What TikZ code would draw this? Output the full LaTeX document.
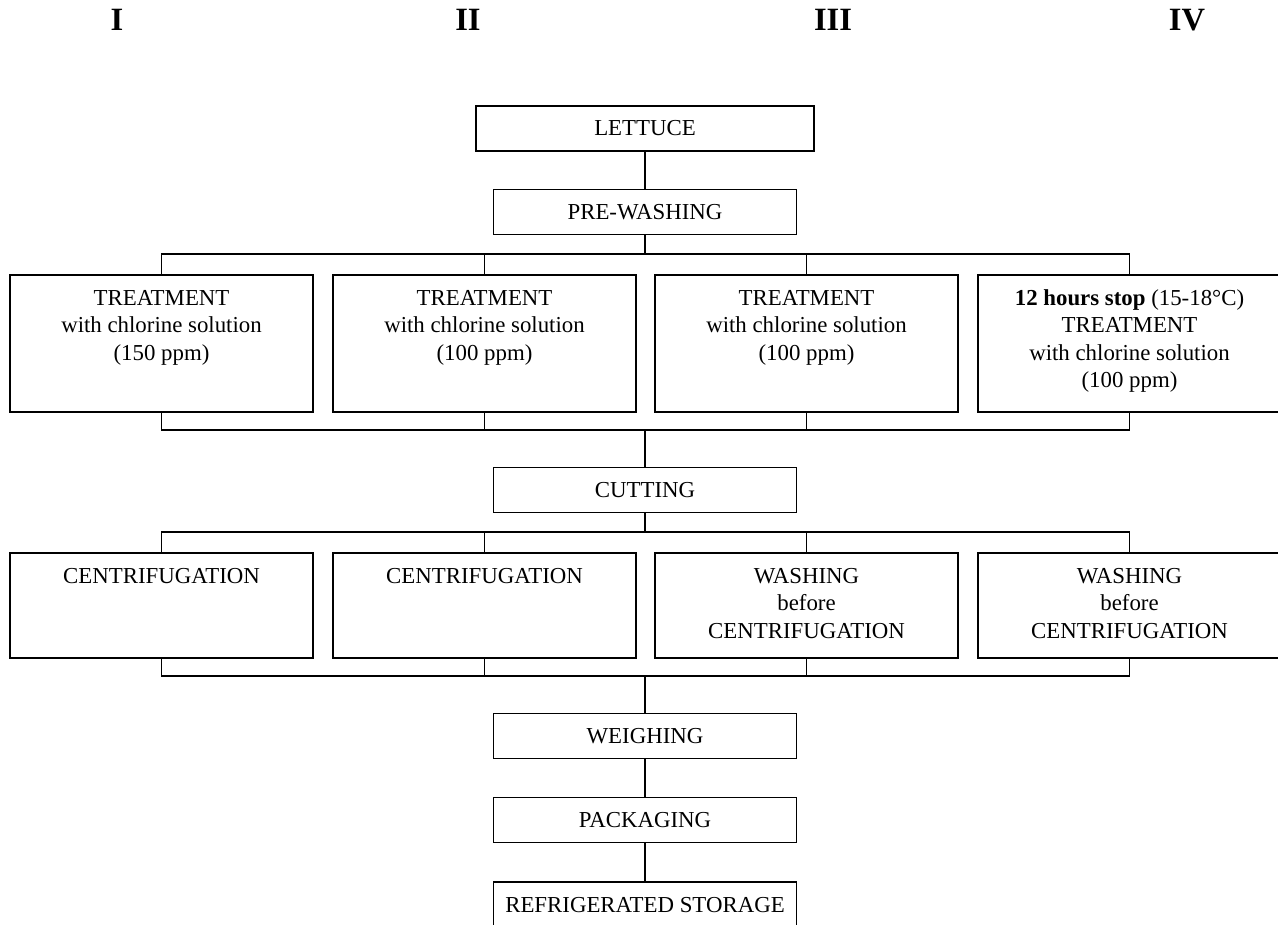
\documentclass[tikz,border=0pt]{standalone}
\usepackage{fontspec}
\setmainfont{Liberation Serif}
\usepackage{tikz}

\tikzset{
  stage/.style={draw, line width=0.9pt, inner sep=0pt, minimum width=6.06cm,
    minimum height=0.9cm, font=\fontsize{13}{15.6}\selectfont},
  branch/.style={draw, line width=0.9pt, inner sep=0pt, anchor=north,
    font=\fontsize{13}{15.6}\selectfont},
  wire/.style={line width=0.9pt},
  roman/.style={font=\fontsize{18.5}{20}\selectfont\bfseries},
}
\newcommand{\cell}[2]{\parbox[t][#1][t]{6.06cm}{\centering\rule{0pt}{17.4pt}#2}}

\begin{document}
\begin{tikzpicture}[x=0.02cm, y=-0.02cm]
\useasboundingbox (0,0) rectangle (1278,925);

%% titres des colonnes
\node[roman] (colI) at (117,20) {I};
\node[roman] (colII) at (468,20) {II};
\node[roman] (colIII) at (833,20) {III};
\node[roman] (colIV) at (1187,20) {IV};

%% hauteurs des boites
\def\tH{2.74cm}
\def\cH{2.1cm}

%% debut de la ligne
\node[stage, minimum width=6.76cm] (lettuce) at (645,128.5) {LETTUCE};
\node[stage] (prewash) at (645,212) {PRE-WASHING};

%% traitements
\node[branch] (tr1) at (161.5,274) {\cell{\tH}{TREATMENT\\with chlorine solution\\(150 ppm)}};
\node[branch] (tr2) at (484.5,274) {\cell{\tH}{TREATMENT\\with chlorine solution\\(100 ppm)}};
\node[branch] (tr3) at (806.5,274) {\cell{\tH}{TREATMENT\\with chlorine solution\\(100 ppm)}};
\node[branch] (tr4) at (1129.5,274) {\cell{\tH}{\textbf{12 hours stop} (15-18°C)\\TREATMENT\\with chlorine solution\\(100 ppm)}};

\node[stage] (cutting) at (645,490) {CUTTING};

%% centrifugation
\node[branch] (cf1) at (161.5,552) {\cell{\cH}{CENTRIFUGATION}};
\node[branch] (cf2) at (484.5,552) {\cell{\cH}{CENTRIFUGATION}};
\node[branch] (cf3) at (806.5,552) {\cell{\cH}{WASHING\\before\\CENTRIFUGATION}};
\node[branch] (cf4) at (1129.5,552) {\cell{\cH}{WASHING\\before\\CENTRIFUGATION}};

%% fin de la ligne
\node[stage] (weighing) at (645,736) {WEIGHING};
\node[stage] (packaging) at (645,820) {PACKAGING};
\node[stage, minimum height=0.92cm] (storage) at (645,905) {REFRIGERATED STORAGE};

%% barres de distribution
\coordinate (busA) at (645,254);
\coordinate (busB) at (645,430);
\coordinate (busC) at (645,532);
\coordinate (busD) at (645,676);

\draw[wire] (lettuce) -- (prewash);
\draw[wire] (prewash) -- (busA);
\draw[wire] (tr1.north) |- (busA) -| (tr4.north);
\draw[wire] (tr1.south) |- (busB) -| (tr4.south);
\foreach \i in {2,3} {
  \draw[wire] (tr\i.north) -- (tr\i.north |- busA);
  \draw[wire] (tr\i.south) -- (tr\i.south |- busB);
}
\draw[wire] (busB) -- (cutting);

\draw[wire] (cutting) -- (busC);
\draw[wire] (cf1.north) |- (busC) -| (cf4.north);
\draw[wire] (cf1.south) |- (busD) -| (cf4.south);
\foreach \i in {2,3} {
  \draw[wire] (cf\i.north) -- (cf\i.north |- busC);
  \draw[wire] (cf\i.south) -- (cf\i.south |- busD);
}
\draw[wire] (busD) -- (weighing);
\draw[wire] (weighing) -- (packaging);
\draw[wire] (packaging) -- (storage);

\end{tikzpicture}
\end{document}
